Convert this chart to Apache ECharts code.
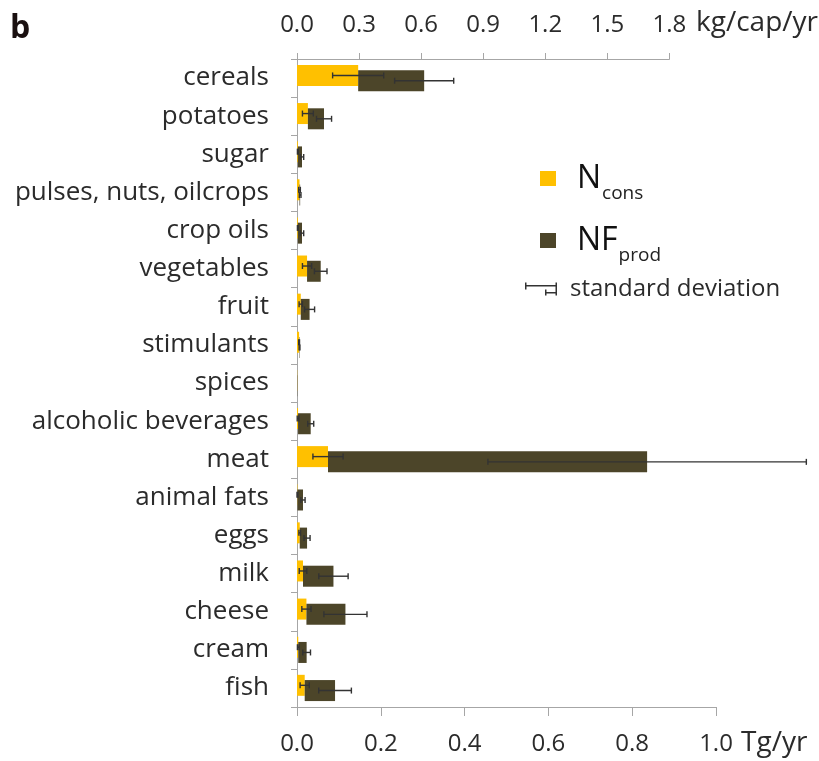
<!DOCTYPE html>
<html>
<head>
<meta charset="utf-8">
<script src="https://cdn.jsdelivr.net/npm/echarts@6/dist/echarts.min.js"></script>
<style>
  html, body { margin: 0; padding: 0; background: #ffffff; }
  #chart { width: 819px; height: 761px; }
</style>
</head>
<body>
<div id="chart"></div>
<script>
// Nitrogen flows per food group (Tg/yr), with standard deviations
const categories = [
  'cereals', 'potatoes', 'sugar', 'pulses, nuts, oilcrops', 'crop oils',
  'vegetables', 'fruit', 'stimulants', 'spices', 'alcoholic beverages',
  'meat', 'animal fats', 'eggs', 'milk', 'cheese', 'cream', 'fish'
];
// N consumed
const nCons   = [0.146, 0.026, 0.002, 0.006, 0.002, 0.024, 0.009, 0.005, 0.0005, 0.0025, 0.074, 0.001, 0.0065, 0.0143, 0.0225, 0.003, 0.0184];
const nConsSd = [0.061, 0.013, 0.001, 0.002, 0.001, 0.011, 0.004, 0.001, 0, 0.002, 0.036, 0.001, 0.002, 0.009, 0.011, 0.002, 0.011];
// N footprint of production (bar end value)
const nfProd   = [0.3035, 0.0645, 0.012, 0.0075, 0.012, 0.0566, 0.030, 0.006, 0.001, 0.0327, 0.8356, 0.0143, 0.024, 0.087, 0.1156, 0.023, 0.0908];
const nfProdSd = [0.0705, 0.018, 0.004, 0.002, 0.004, 0.015, 0.012, 0.001, 0, 0.0072, 0.380, 0.005, 0.0072, 0.035, 0.0514, 0.0092, 0.039];
// Axis ticks
const tgTicks  = [0, 0.2, 0.4, 0.6, 0.8, 1.0];
const kgTicks  = [0, 0.3, 0.6, 0.9, 1.2, 1.5, 1.8];

const FONT = '"Open Sans", "Noto Sans", sans-serif';
const YELLOW = '#FFC000';
const OLIVE = '#4C4529';
const AXIS_GRAY = '#a6a6a6';
const TEXT = '#2b2b2b';
const BAR_W = 21;
const BAR_GAP = -0.75;
// vertical shift of each bar's centre from the band centre
const HALF_SPAN = (BAR_W * 2 + BAR_W * BAR_GAP) / 2;
const SHIFT_CONS = -HALF_SPAN + BAR_W / 2;
const SHIFT_PROD = HALF_SPAN - BAR_W / 2;

const chart = echarts.init(document.getElementById('chart'), null, { renderer: 'canvas' });

function errorBars(shift) {
  return function (params, api) {
    const idx = api.value(0);
    const val = api.value(1);
    const sd = api.value(2);
    if (!(sd > 0)) return null;
    const lo = api.coord([val - sd, idx]);
    const hi = api.coord([val + sd, idx]);
    const y = lo[1] + shift;
    const cap = 3;
    const style = { stroke: '#333333', lineWidth: 1.4, fill: null };
    return {
      type: 'group',
      children: [
        { type: 'line', shape: { x1: lo[0], y1: y, x2: hi[0], y2: y }, style: style },
        { type: 'line', shape: { x1: lo[0], y1: y - cap, x2: lo[0], y2: y + cap }, style: style },
        { type: 'line', shape: { x1: hi[0], y1: y - cap, x2: hi[0], y2: y + cap }, style: style }
      ]
    };
  };
}

const consErr = categories.map((c, i) => [i, nCons[i], nConsSd[i]]);
const prodErr = categories.map((c, i) => [i, nfProd[i], nfProdSd[i]]);
const prodExtra = categories.map((c, i) => +(nfProd[i] - nCons[i]).toFixed(5));

const tickFmt = v => v.toFixed(1);

const SD_ICON = 'path://M0,2.5h32v1.5h-32z M0,0h1.5v7h-1.5z M30.5,0h1.5v7h-1.5z M20,9.5h12v1.5h-12z M20,7h1.5v6h-1.5z M30.5,7h1.5v6h-1.5z';

const option = {
  backgroundColor: '#ffffff',
  animation: false,
  textStyle: { fontFamily: FONT },
  grid: [
    { left: 297, right: 103, top: 59, bottom: 54 },
    { left: 297, width: 372.4, top: 59, bottom: 54 }
  ],
  xAxis: [
    {
      gridIndex: 0, type: 'value', position: 'bottom',
      min: tgTicks[0], max: tgTicks[tgTicks.length - 1], interval: tgTicks[1] - tgTicks[0],
      axisLine: { show: true, lineStyle: { color: AXIS_GRAY, width: 1 } },
      axisTick: { show: true, length: 9, lineStyle: { color: AXIS_GRAY } },
      splitLine: { show: false },
      axisLabel: { formatter: tickFmt, fontSize: 24, color: TEXT, margin: 25, fontFamily: FONT }
    },
    {
      gridIndex: 1, type: 'value', position: 'top',
      min: kgTicks[0], max: kgTicks[kgTicks.length - 1], interval: kgTicks[1] - kgTicks[0],
      axisLine: { show: true, lineStyle: { color: AXIS_GRAY, width: 1 } },
      axisTick: { show: true, length: 6, lineStyle: { color: AXIS_GRAY } },
      splitLine: { show: false },
      axisLabel: { formatter: tickFmt, fontSize: 24, color: TEXT, margin: 22, fontFamily: FONT }
    }
  ],
  yAxis: [
    {
      gridIndex: 0, type: 'category', data: categories, inverse: true,
      axisLine: { show: true, lineStyle: { color: AXIS_GRAY, width: 1 } },
      axisTick: { show: true, length: 6, lineStyle: { color: AXIS_GRAY } },
      axisLabel: { fontSize: 26, color: TEXT, margin: 28, fontFamily: FONT }
    },
    {
      gridIndex: 1, type: 'category', data: categories, inverse: true, show: false
    }
  ],
  legend: [
    {
      left: 540, top: 154, orient: 'vertical', selectedMode: false, padding: 0,
      itemWidth: 16, itemHeight: 15, itemGap: 13, icon: 'rect',
      data: ['N_cons', 'NF_prod'],
      formatter: name => name === 'N_cons' ? '{m|N}{s|cons}' : '{m|NF}{s|prod}',
      textStyle: {
        rich: {
          m: { fontSize: 32, lineHeight: 32, color: '#111', fontFamily: FONT, padding: [0, 0, 0, 16], verticalAlign: 'middle' },
          s: { fontSize: 19, lineHeight: 19, color: '#222', fontFamily: FONT, padding: [30, 0, 0, 1], verticalAlign: 'middle' }
        }
      }
    },
    {
      left: 525, top: 277, orient: 'vertical', selectedMode: false, padding: 0,
      itemWidth: 32, itemHeight: 13,
      data: [{ name: 'standard deviation', icon: SD_ICON }],
      textStyle: { fontSize: 24, color: TEXT, fontFamily: FONT, padding: [0, 0, 0, 8] }
    }
  ],
  graphic: [
    { type: 'text', left: 10, top: 13, style: { text: 'b', font: 'bold 32px "Open Sans", sans-serif', fill: '#1a1010' } },
    { type: 'text', left: 696, top: 9, style: { text: 'kg/cap/yr', font: '28px "Open Sans", sans-serif', fill: TEXT } },
    { type: 'text', left: 741, top: 729, style: { text: 'Tg/yr', font: '28px "Open Sans", sans-serif', fill: TEXT } }
  ],
  series: [
    {
      name: 'N_cons', type: 'bar', xAxisIndex: 0, yAxisIndex: 0, stack: 'cons',
      barWidth: BAR_W, barGap: (BAR_GAP * 100) + '%',
      itemStyle: { color: YELLOW },
      data: nCons, z: 2
    },
    {
      name: 'base', type: 'bar', xAxisIndex: 0, yAxisIndex: 0, stack: 'prod',
      barWidth: BAR_W, barGap: (BAR_GAP * 100) + '%',
      itemStyle: { color: 'rgba(0,0,0,0)' }, silent: true,
      data: nCons, z: 1
    },
    {
      name: 'NF_prod', type: 'bar', xAxisIndex: 0, yAxisIndex: 0, stack: 'prod',
      barWidth: BAR_W, barGap: (BAR_GAP * 100) + '%',
      itemStyle: { color: OLIVE },
      data: prodExtra, z: 2
    },
    {
      name: 'standard deviation', type: 'custom', xAxisIndex: 0, yAxisIndex: 0,
      renderItem: errorBars(SHIFT_CONS), encode: { x: 1, y: 0 },
      itemStyle: { color: '#333333' }, data: consErr, z: 5
    },
    {
      name: 'standard deviation', type: 'custom', xAxisIndex: 0, yAxisIndex: 0,
      renderItem: errorBars(SHIFT_PROD), encode: { x: 1, y: 0 },
      itemStyle: { color: '#333333' }, data: prodErr, z: 5
    }
  ]
};

chart.setOption(option);
</script>
</body>
</html>
